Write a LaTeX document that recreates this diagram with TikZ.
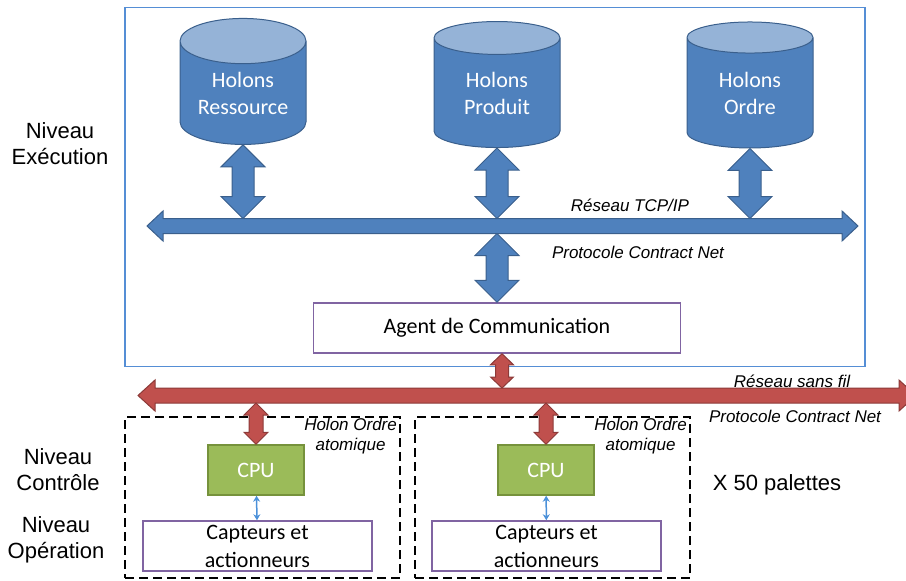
\documentclass[tikz,border=0pt]{standalone}
\usepackage{fontspec}
\setmainfont{Carlito}
\newfontfamily\arialfont{Liberation Sans}
\usetikzlibrary{positioning,calc,shapes.geometric,arrows.meta}

\definecolor{blueF}{HTML}{4F81BD}
\definecolor{blueD}{HTML}{3A5F8C}
\definecolor{blueTop}{HTML}{95B3D7}
\definecolor{frameBlue}{HTML}{558ED5}
\definecolor{redF}{HTML}{C0504D}
\definecolor{redD}{HTML}{8C3A38}
\definecolor{greenF}{HTML}{9BBB59}
\definecolor{greenD}{HTML}{76923C}
\definecolor{purpleB}{HTML}{8064A2}
\definecolor{linkBlue}{HTML}{4A90D9}

% double block arrow between two points: [style]{from}{to}{shaft half}{head half}{head length}
\newcommand\biarrow[6][]{%
	\draw[#1] let \p1=(#2), \p2=(#3), \n1={atan2(\y2-\y1,\x2-\x1)} in
		(\p1) -- ($(\p1)+(\n1:#6)+(\n1+90:#5)$) -- ($(\p1)+(\n1:#6)+(\n1+90:#4)$)
		-- ($(\p2)-(\n1:#6)+(\n1+90:#4)$) -- ($(\p2)-(\n1:#6)+(\n1+90:#5)$)
		-- (\p2) -- ($(\p2)-(\n1:#6)-(\n1+90:#5)$) -- ($(\p2)-(\n1:#6)-(\n1+90:#4)$)
		-- ($(\p1)+(\n1:#6)-(\n1+90:#4)$) -- ($(\p1)+(\n1:#6)-(\n1+90:#5)$) -- cycle;%
}

\begin{document}
\begin{tikzpicture}[x=1pt, y=-1pt, thick, node distance=1em]
	\useasboundingbox (0,0) rectangle (906,581);
	
	\tikzstyle{holon}=[cylinder, shape border rotate=90, aspect=0.5, draw=blueD, line width=1pt,
		cylinder uses custom fill, cylinder body fill=blueF, cylinder end fill=blueTop,
		minimum width=126pt, minimum height=126pt, inner sep=0pt, text=white, align=center,
		font=\fontsize{22}{27}\selectfont]
	\tikzstyle{whitebox}=[draw=purpleB, line width=1.5pt, fill=white, align=center,
		font=\fontsize{22}{28}\selectfont]
	\tikzstyle{cpubox}=[draw=greenD, line width=1.5pt, fill=greenF, text=white,
		minimum width=96pt, minimum height=50pt, font=\fontsize{22}{27}\selectfont]
	\tikzstyle{palette}=[draw, line width=2.5pt, dash pattern=on 9pt off 5pt,
		minimum width=275pt, minimum height=161pt]
	\tikzstyle{netlabel}=[font=\arialfont\itshape\fontsize{17}{20}\selectfont, align=center, inner sep=0pt]
	\tikzstyle{level}=[font=\arialfont\fontsize{22}{26}\selectfont, align=center]
	\tikzstyle{bluearrow}=[fill=blueF, draw=blueD, line width=1pt]
	\tikzstyle{redarrow}=[fill=redF, draw=redD, line width=1pt]
	\tikzstyle{link}=[linkBlue, line width=1.5pt, {Stealth[length=6pt,width=7pt]}-{Stealth[length=6pt,width=7pt]}]
	
	% niveau execution
	\node[draw=frameBlue, line width=1.5pt, minimum width=740pt, minimum height=359pt] (exec) at (495,187) {};
	
	\node[holon] (res) at (243,93) {Holons\\Ressource};
	\node[holon] (prod) at (497,93) {Holons\\Produit};
	\node[holon] (ord) at (750,93) {Holons\\Ordre};
	
	\coordinate (tcpW) at (147,226);
	\coordinate (tcpE) at (858,226);
	\coordinate (tcpT) at (0,218.5);
	\coordinate (tcpB) at (0,233.5);
	
	\node[whitebox, minimum width=367pt, minimum height=50pt] (agent) at (497,328) {Agent de Communication};
	\coordinate (agentout) at ([xshift=5pt]agent.south);
	
	\biarrow[bluearrow]{tcpW}{tcpE}{7.5pt}{15pt}{16pt}
	\foreach \h in {res,prod,ord}{
		\biarrow[bluearrow]{\h.south}{\h.south |- tcpT}{11pt}{22pt}{22pt}
	}
	\biarrow[bluearrow]{agent.north |- tcpB}{agent.north}{11pt}{22pt}{22pt}
	
	\node[netlabel] (tcp) at (630,205) {R\'eseau TCP/IP};
	\node[netlabel] (cnet1) at (638,252) {Protocole Contract Net};
	
	% reseau sans fil
	\coordinate (wifiW) at (138,395.5);
	\coordinate (wifiE) at (916,395.5);
	\coordinate (wifiT) at (0,388);
	\coordinate (wifiB) at (0,403);
	
	\node[palette] (hol1) at (262.5,497.5) {};
	\node[palette] (hol2) at (552.5,497.5) {};
	
	\node[cpubox] (cpu1) at (256,470) {CPU};
	\node[cpubox] (cpu2) at (546,470) {CPU};
	\node[whitebox, minimum width=229pt, minimum height=50pt, inner sep=0pt] (capt1) at (257.5,546) {Capteurs et\\actionneurs};
	\node[whitebox, minimum width=229pt, minimum height=50pt, inner sep=0pt] (capt2) at (546.5,546) {Capteurs et\\actionneurs};
	
	\biarrow[redarrow]{wifiW}{wifiE}{7.5pt}{15.5pt}{17pt}
	\biarrow[redarrow]{agentout}{agentout |- wifiT}{6.5pt}{11.5pt}{11pt}
	\biarrow[redarrow]{cpu1.north |- wifiB}{cpu1.north}{7pt}{12pt}{12pt}
	\biarrow[redarrow]{cpu2.north |- wifiB}{cpu2.north}{7pt}{12pt}{12pt}
	
	\draw[link] (cpu1) -- (capt1);
	\draw[link] (cpu2) -- (capt2);
	
	\node[netlabel] (sansfil) at (792,381) {R\'eseau sans fil};
	\node[netlabel] (cnet2) at (795,416) {Protocole Contract Net};
	
	\node[netlabel, below left=2pt and 4pt of hol1.north east, anchor=north east] (ho1) {Holon Ordre\\atomique};
	\node[netlabel, below left=2pt and 4pt of hol2.north east, anchor=north east] (ho2) {Holon Ordre\\atomique};
	
	\node[level] (x50) at (777,485) {X 50 palettes};
	
	% niveaux
	\node[level] (nexec) at (60,144) {Niveau\\Ex\'ecution};
	\node[level] (nctrl) at (58,470) {Niveau\\Contr\^ole};
	\node[level] (nop) at (56,540) {Niveau\\Op\'eration};
	
\end{tikzpicture}
\end{document}
